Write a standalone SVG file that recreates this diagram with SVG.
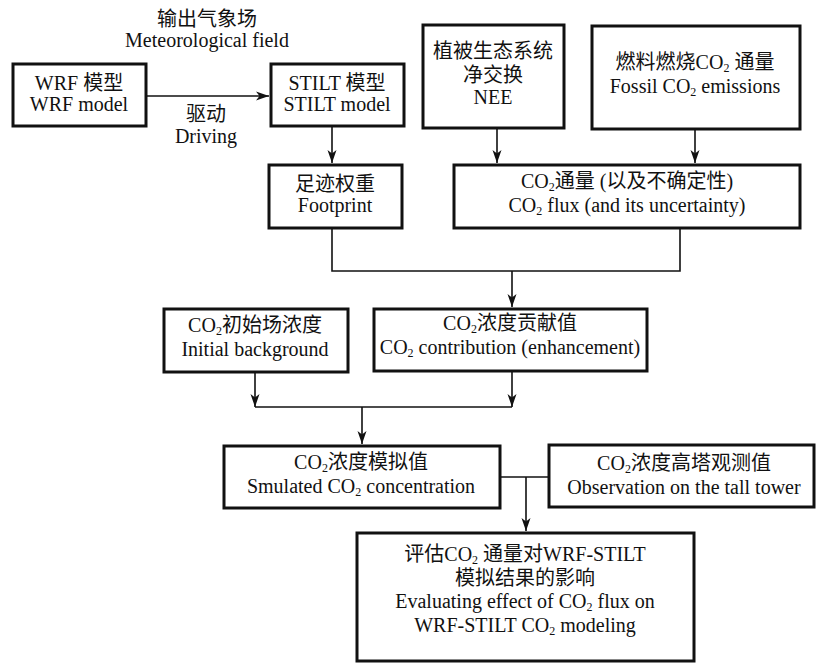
<svg xmlns="http://www.w3.org/2000/svg" width="816" height="663" viewBox="0 0 816 663">
<defs>
<style>
.box{fill:#fff;stroke:#111;stroke-width:3}
.ln{fill:none;stroke:#111;stroke-width:1.6}
text{font-family:"Liberation Serif","Noto Sans CJK SC",serif;font-size:20px;fill:#111;text-anchor:middle}
text.en{font-family:"Liberation Serif","Times New Roman",serif}
.s{font-size:12px}
</style>
<marker id="ah" markerUnits="userSpaceOnUse" markerWidth="14" markerHeight="10" refX="13" refY="5" orient="auto">
<path d="M0,0.5 L13,5 L0,9.5 L3.5,5 z" fill="#111"/>
</marker>
</defs>
<rect width="816" height="663" fill="#fff"/>

<g id="labels">
<text x="207" y="26">输出气象场</text>
<text class="en" x="207" y="47">Meteorological field</text>
<text x="206" y="121">驱动</text>
<text class="en" x="206" y="143">Driving</text>
</g>

<g id="connectors">
<path class="ln" d="M146,96 H269" marker-end="url(#ah)"/>
<path class="ln" d="M332,127 V163" marker-end="url(#ah)"/>
<path class="ln" d="M497,128 V163" marker-end="url(#ah)"/>
<path class="ln" d="M695,129 V163" marker-end="url(#ah)"/>
<path class="ln" d="M332,229 V271 H680 V229"/>
<path class="ln" d="M512,271 V307" marker-end="url(#ah)"/>
<path class="ln" d="M255,372 V407" marker-end="url(#ah)"/>
<path class="ln" d="M512,371 V407" marker-end="url(#ah)"/>
<path class="ln" d="M255,407 H512"/>
<path class="ln" d="M362,407 V444" marker-end="url(#ah)"/>
<path class="ln" d="M500,477 H548"/>
<path class="ln" d="M526,477 V531" marker-end="url(#ah)"/>
</g>

<g id="wrf">
<rect class="box" x="13" y="64" width="133" height="62"/>
<text x="79" y="90">WRF 模型</text>
<text class="en" x="79" y="111">WRF model</text>
</g>

<g id="stilt">
<rect class="box" x="271" y="64" width="133" height="62"/>
<text x="337" y="90">STILT 模型</text>
<text class="en" x="337" y="111">STILT model</text>
</g>

<g id="nee">
<rect class="box" x="423" y="25" width="141" height="103"/>
<text x="493" y="58">植被生态系统</text>
<text x="493" y="82">净交换</text>
<text class="en" x="493" y="104">NEE</text>
</g>

<g id="fossil">
<rect class="box" x="592" y="26" width="208" height="103"/>
<text x="695" y="69">燃料燃烧CO<tspan class="s" dy="3">2</tspan><tspan dy="-3"> 通量</tspan></text>
<text class="en" x="695" y="93">Fossil CO<tspan class="s" dy="3">2</tspan><tspan dy="-3"> emissions</tspan></text>
</g>

<g id="footprint">
<rect class="box" x="269" y="165" width="133" height="63"/>
<text x="335" y="191">足迹权重</text>
<text class="en" x="335" y="212">Footprint</text>
</g>

<g id="flux">
<rect class="box" x="454" y="165" width="346" height="63"/>
<text x="627" y="188">CO<tspan class="s" dy="3">2</tspan><tspan dy="-3">通量 (以及不确定性)</tspan></text>
<text class="en" x="627" y="212">CO<tspan class="s" dy="3">2</tspan><tspan dy="-3"> flux (and its uncertainty)</tspan></text>
</g>

<g id="initial">
<rect class="box" x="164" y="309" width="184" height="63"/>
<text x="255" y="332">CO<tspan class="s" dy="3">2</tspan><tspan dy="-3">初始场浓度</tspan></text>
<text class="en" x="255" y="356">Initial background</text>
</g>

<g id="contribution">
<rect class="box" x="374" y="309" width="273" height="62"/>
<text x="510" y="330">CO<tspan class="s" dy="3">2</tspan><tspan dy="-3">浓度贡献值</tspan></text>
<text class="en" x="510" y="354">CO<tspan class="s" dy="3">2</tspan><tspan dy="-3"> contribution (enhancement)</tspan></text>
</g>

<g id="simulated">
<rect class="box" x="224" y="446" width="276" height="62"/>
<text x="361" y="469">CO<tspan class="s" dy="3">2</tspan><tspan dy="-3">浓度模拟值</tspan></text>
<text class="en" x="361" y="493">Smulated CO<tspan class="s" dy="3">2</tspan><tspan dy="-3"> concentration</tspan></text>
</g>

<g id="observation">
<rect class="box" x="549" y="445" width="265" height="62"/>
<text x="684" y="470">CO<tspan class="s" dy="3">2</tspan><tspan dy="-3">浓度高塔观测值</tspan></text>
<text class="en" x="684" y="494">Observation on the tall tower</text>
</g>

<g id="evaluation">
<rect class="box" x="357" y="533" width="337" height="128"/>
<text x="525" y="561">评估CO<tspan class="s" dy="3">2</tspan><tspan dy="-3"> 通量对WRF-STILT</tspan></text>
<text x="525" y="585">模拟结果的影响</text>
<text class="en" x="525" y="608">Evaluating effect of CO<tspan class="s" dy="3">2</tspan><tspan dy="-3"> flux on</tspan></text>
<text class="en" x="525" y="632">WRF-STILT CO<tspan class="s" dy="3">2</tspan><tspan dy="-3"> modeling</tspan></text>
</g>
</svg>
